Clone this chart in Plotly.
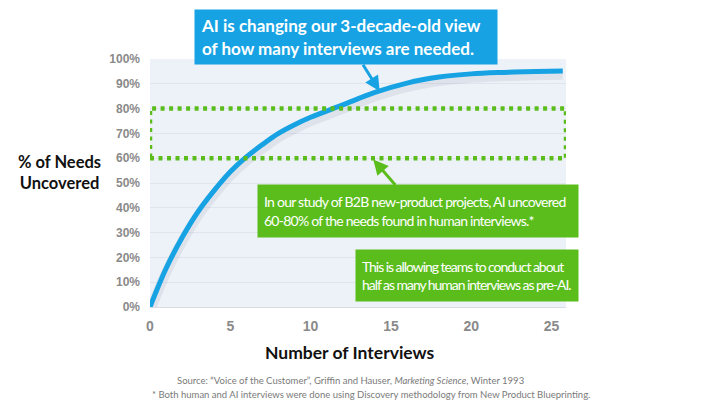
import plotly.graph_objects as go

# ---- data ----
interviews = [0, 1, 2, 3, 4, 5, 6, 7, 8, 9, 10, 12, 14, 16, 18, 20, 22, 24, 25.7]
pct_uncovered = [0, 15.5, 28, 38.5, 47, 54.5, 60.5, 65.5, 70, 73.5, 76.5, 81.5, 86.5, 90.3, 92.7, 94, 94.6, 95, 95.2]
x_ticks = [0, 5, 10, 15, 20, 25]
y_ticks = [0, 10, 20, 30, 40, 50, 60, 70, 80, 90, 100]
y_tick_text = ["0%", "10%", "20%", "30%", "40%", "50%", "60%", "70%", "80%", "90%", "100%"]
band_low, band_high = 60, 80
band_x_end = 25.9

BLUE = "#17a3e3"
GREEN = "#5bbd1c"

L, R, T, B = 150, 144, 59, 102
W, H = 710, 409
PW, PH = W - L - R, H - T - B

def px(xp):
    return (xp - L) / PW

def py(yp):
    return (H - B - yp) / PH

def tight(s, ls="-0.65px"):
    return "<br>".join(f'<span style="letter-spacing:{ls}">{line}</span>' for line in s.split("<br>"))

fig = go.Figure()

# soft shadow under curve
fig.add_trace(go.Scatter(x=interviews, y=[v - 1.6 for v in pct_uncovered], mode="lines",
                         line=dict(color="rgba(80,90,110,0.09)", width=10, shape="spline"),
                         hoverinfo="skip", showlegend=False, cliponaxis=False))
fig.add_trace(go.Scatter(x=interviews, y=pct_uncovered, mode="lines",
                         line=dict(color=BLUE, width=5, shape="spline"),
                         showlegend=False, cliponaxis=False))

# dotted band rectangle
fig.add_shape(type="rect", x0=0, x1=band_x_end, y0=band_low, y1=band_high,
              line=dict(color=GREEN, width=4.5, dash="4px,4.5px"), layer="above")

green_font = dict(family="Lato", size=14, color="white")

fig.update_layout(
    width=W, height=H,
    margin=dict(l=L, r=R, t=T, b=B),
    paper_bgcolor="white",
    plot_bgcolor="#edf1f8",
    xaxis=dict(range=[0, 25.9], tickvals=x_ticks, showgrid=False, zeroline=False,
               showline=True, linecolor="#d6dbe4", linewidth=1,
               tickfont=dict(family="Liberation Sans, Arial", size=14, color="#8a8a8a", weight="bold"),
               ticks="", ticklabelstandoff=6),
    yaxis=dict(range=[0, 100], tickvals=y_ticks, ticktext=y_tick_text, showgrid=True,
               gridcolor="#dfe4ee", gridwidth=1, zeroline=False,
               tickfont=dict(family="Liberation Sans, Arial", size=12, color="#8a8a8a", weight="bold"),
               ticks="", ticklabelstandoff=9),
    annotations=[
        dict(x=14.3, y=87, xref="x", yref="y", ax=-34, ay=-54,
             text="AI is changing our 3-decade-old view<br>of how many interviews are needed.",
             font=dict(family="Lato", size=17, color="white", weight="bold"),
             bgcolor=BLUE, borderpad=6, width=290, height=42, align="left",
             showarrow=True, arrowhead=2, arrowsize=1, arrowwidth=3, arrowcolor=BLUE),
        dict(x=13.9, y=59.5, xref="x", yref="y", ax=45, ay=52,
             text=tight("In our study of B2B new-product projects, AI uncovered<br>60-80% of the needs found in human interviews.*", "-0.75px"),
             font=green_font,
             bgcolor=GREEN, borderpad=6, width=308, height=40, align="left",
             showarrow=True, arrowhead=2, arrowsize=1, arrowwidth=3, arrowcolor=GREEN),
        dict(x=px(467), y=py(275.5), xref="paper", yref="paper", xanchor="center", yanchor="middle",
             text=tight("This is allowing teams to conduct about<br>half as many human interviews as pre-AI.", "-1.05px"),
             font=green_font,
             bgcolor=GREEN, borderpad=6, width=210, height=39, align="left", showarrow=False),
        dict(x=px(59), y=py(172), xref="paper", yref="paper", xanchor="center", yanchor="middle",
             text="% of Needs<br>Uncovered", showarrow=False,
             font=dict(family="Lato", size=16.5, color="#111111", weight="bold")),
        dict(x=px(350), y=py(352), xref="paper", yref="paper", xanchor="center", yanchor="middle",
             text="Number of Interviews", showarrow=False,
             font=dict(family="Lato", size=17.5, color="#111111", weight="bold")),
        dict(x=px(175), y=py(380), xref="paper", yref="paper", xanchor="left", yanchor="middle",
             text="Source: \u201cVoice of the Customer\u201d, Griffin and Hauser, <i>Marketing Science</i>, Winter 1993",
             showarrow=False, font=dict(family="Lato", size=9.5, color="#7a7a7a")),
        dict(x=px(150), y=py(394), xref="paper", yref="paper", xanchor="left", yanchor="middle",
             text="* Both human and AI interviews were done using Discovery methodology from New Product Blueprinting.",
             showarrow=False, font=dict(family="Lato", size=9.5, color="#7a7a7a")),
    ],
)

fig.write_html("out.html", config={"displayModeBar": False},
               post_script="document.body.style.margin='0';")
